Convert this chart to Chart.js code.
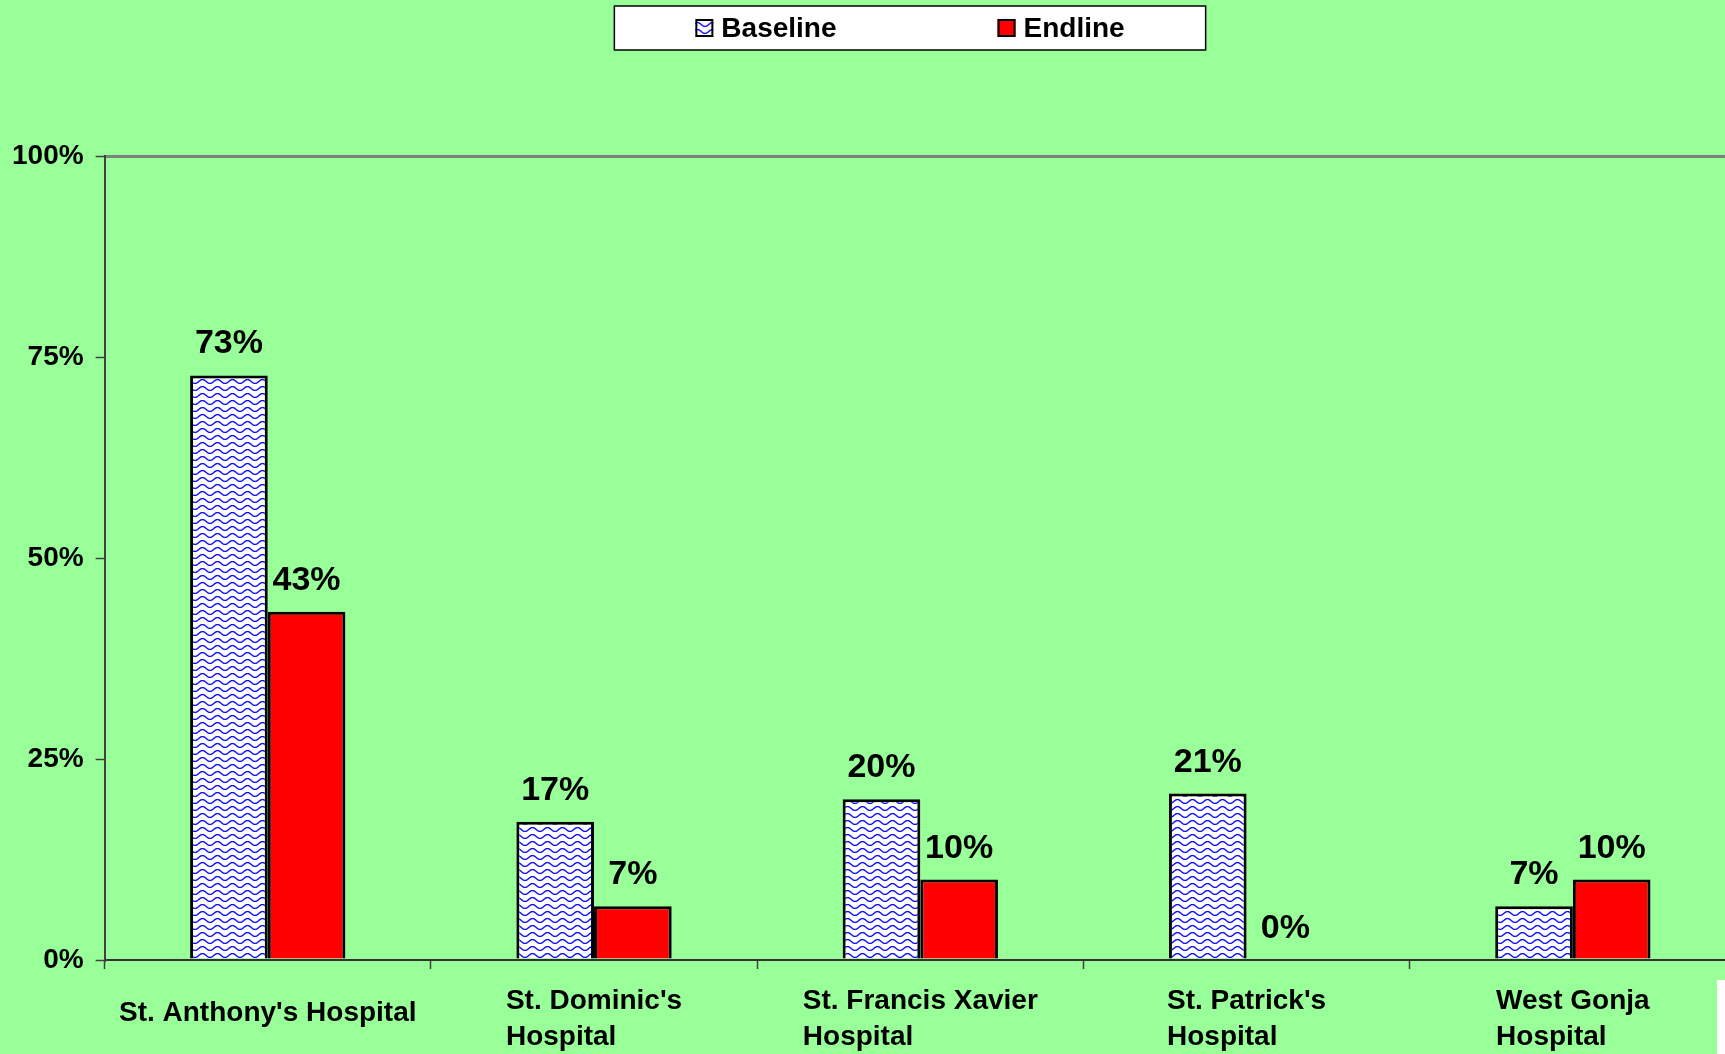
<!DOCTYPE html>
<html><head><meta charset="utf-8">
<script src="https://cdn.jsdelivr.net/npm/chart.js@4.4.1/dist/chart.umd.min.js"></script>
<style>
html,body{margin:0;padding:0;background:#99ff99;overflow:hidden;width:1725px;height:1054px;}
#wrap{position:absolute;left:0;top:0;width:1740px;height:1054px;}
#patch{position:absolute;left:1717px;top:980px;width:8px;height:74px;background:#fff;}
</style></head><body>
<div id="wrap"><canvas id="c"></canvas></div>
<div id="patch"></div>
<script>
// ---- data ----
const categories = [["St. Anthony's Hospital"], ["St. Dominic's", "Hospital"], ["St. Francis Xavier", "Hospital"], ["St. Patrick's", "Hospital"], ["West Gonja", "Hospital"]];
const seriesNames = ['Baseline', 'Endline'];
const baselineValues = [72.7, 17.2, 20.0, 20.7, 6.7];
const endlineValues = [43.3, 6.7, 10.0, 0, 10.0];
const yTicks = [0, 25, 50, 75, 100];

// ---- styles ----
const FONT = "Arial, 'Liberation Sans', sans-serif";
function makePattern() {
  const c = document.createElement('canvas');
  c.width = 15; c.height = 7;
  const g = c.getContext('2d');
  g.fillStyle = '#ffffff'; g.fillRect(0, 0, 15, 7);
  g.strokeStyle = '#1010ff'; g.lineWidth = 1.4;
  g.beginPath();
  for (let x = -1; x <= 16; x += 0.5) {
    const y = 3.5 + 1.9 * Math.cos(2 * Math.PI * x / 15);
    if (x === -1) g.moveTo(x, y); else g.lineTo(x, y);
  }
  g.stroke();
  return document.getElementById('c').getContext('2d').createPattern(c, 'repeat');
}
const wave = makePattern();

const X_TICK_LEN = 9, X_PAD = 14, LINE_H = 36;

const dataLabels = {
  id: 'dataLabels',
  afterDatasetsDraw(chart) {
    const ctx = chart.ctx;
    ctx.save();
    ctx.font = 'bold 34px ' + FONT;
    ctx.fillStyle = '#000';
    ctx.textAlign = 'center';
    ctx.textBaseline = 'alphabetic';
    chart.data.datasets.forEach((ds, di) => {
      chart.getDatasetMeta(di).data.forEach((el, i) => {
        ctx.fillText(Math.round(ds.data[i]) + '%', el.x, el.y - 22);
      });
    });
    ctx.restore();
  }
};

const catLabels = {
  id: 'catLabels',
  afterDraw(chart) {
    const ctx = chart.ctx, xs = chart.scales.x;
    const top = xs.top + X_TICK_LEN + X_PAD;
    ctx.save();
    ctx.font = 'bold 28px ' + FONT;
    ctx.fillStyle = '#000';
    ctx.textAlign = 'left';
    ctx.textBaseline = 'middle';
    categories.forEach((lines, i) => {
      const cx = xs.getPixelForValue(i);
      const w = Math.max(...lines.map(l => ctx.measureText(l).width));
      const x0 = cx - w / 2;
      const yOff = (2 - lines.length) * LINE_H / 3;
      lines.forEach((l, k) => ctx.fillText(l, x0, top + LINE_H / 2 + k * LINE_H + yOff));
    });
    ctx.restore();
  }
};

const boxLegend = {
  id: 'boxLegend',
  afterDraw(chart) {
    const ctx = chart.ctx;
    const centerX = 910, top = 6, h = 44, sw = 18, gap = 8, between = 161, pad = 81;
    ctx.save();
    ctx.font = 'bold 28px ' + FONT;
    const items = chart.data.datasets.map(ds => ({ label: ds.label, fill: ds.backgroundColor, w: ctx.measureText(ds.label).width }));
    let total = 0;
    items.forEach((it, i) => { total += sw + gap + it.w + (i ? between : 0); });
    const boxW = total + 2 * pad;
    const left = centerX - boxW / 2;
    ctx.fillStyle = '#fff';
    ctx.fillRect(left, top, boxW, h);
    ctx.strokeStyle = '#000'; ctx.lineWidth = 1.5;
    ctx.strokeRect(left, top, boxW, h);
    let x = left + pad;
    const cy = top + h / 2;
    items.forEach((it, i) => {
      if (i) x += between;
      ctx.fillStyle = it.fill;
      ctx.fillRect(x, cy - sw / 2, sw, sw);
      ctx.strokeStyle = '#000'; ctx.lineWidth = 2;
      ctx.strokeRect(x + 1, cy - sw / 2 + 1, sw - 2, sw - 2);
      x += sw + gap;
      ctx.fillStyle = '#000';
      ctx.textAlign = 'left'; ctx.textBaseline = 'middle';
      ctx.fillText(it.label, x, cy + 1);
      x += it.w;
    });
    ctx.restore();
  }
};

new Chart(document.getElementById('c'), {
  type: 'bar',
  data: {
    labels: categories,
    datasets: [
      { label: seriesNames[0], data: baselineValues, backgroundColor: wave, borderColor: '#000', borderWidth: 3 },
      { label: seriesNames[1], data: endlineValues, backgroundColor: '#ff0000', borderColor: '#000', borderWidth: 3 }
    ]
  },
  options: {
    responsive: true,
    maintainAspectRatio: false,
    animation: false,
    layout: { padding: { top: 156, left: 0, right: 4, bottom: 0 } },
    datasets: { bar: { categoryPercentage: 0.476, barPercentage: 1 } },
    plugins: { legend: { display: false }, tooltip: { enabled: false } },
    scales: {
      x: {
        offset: true,
        grid: { offset: true, drawOnChartArea: false, drawTicks: true, tickLength: X_TICK_LEN, tickColor: '#404040', tickWidth: 1.5 },
        border: { display: true, color: '#333', width: 2 },
        ticks: { color: 'rgba(0,0,0,0)', font: { family: FONT, size: 28, weight: 'bold', lineHeight: LINE_H / 28 }, padding: 6.5, maxRotation: 0, minRotation: 0, autoSkip: false }
      },
      y: {
        min: 0, max: 100,
        afterBuildTicks: s => { s.ticks = yTicks.map(v => ({ value: v })); },
        ticks: { callback: v => v + '%', color: '#000', font: { family: FONT, size: 28, weight: 'bold' }, padding: 12 },
        grid: {
          color: c => (c.tick && c.tick.value === 100) ? '#808080' : 'rgba(0,0,0,0)',
          lineWidth: 3,
          drawTicks: true, tickLength: 9, tickColor: '#404040', tickWidth: 1.5
        },
        border: { display: true, color: '#404040', width: 2 }
      }
    }
  },
  plugins: [dataLabels, catLabels, boxLegend]
});
</script>
</body></html>
